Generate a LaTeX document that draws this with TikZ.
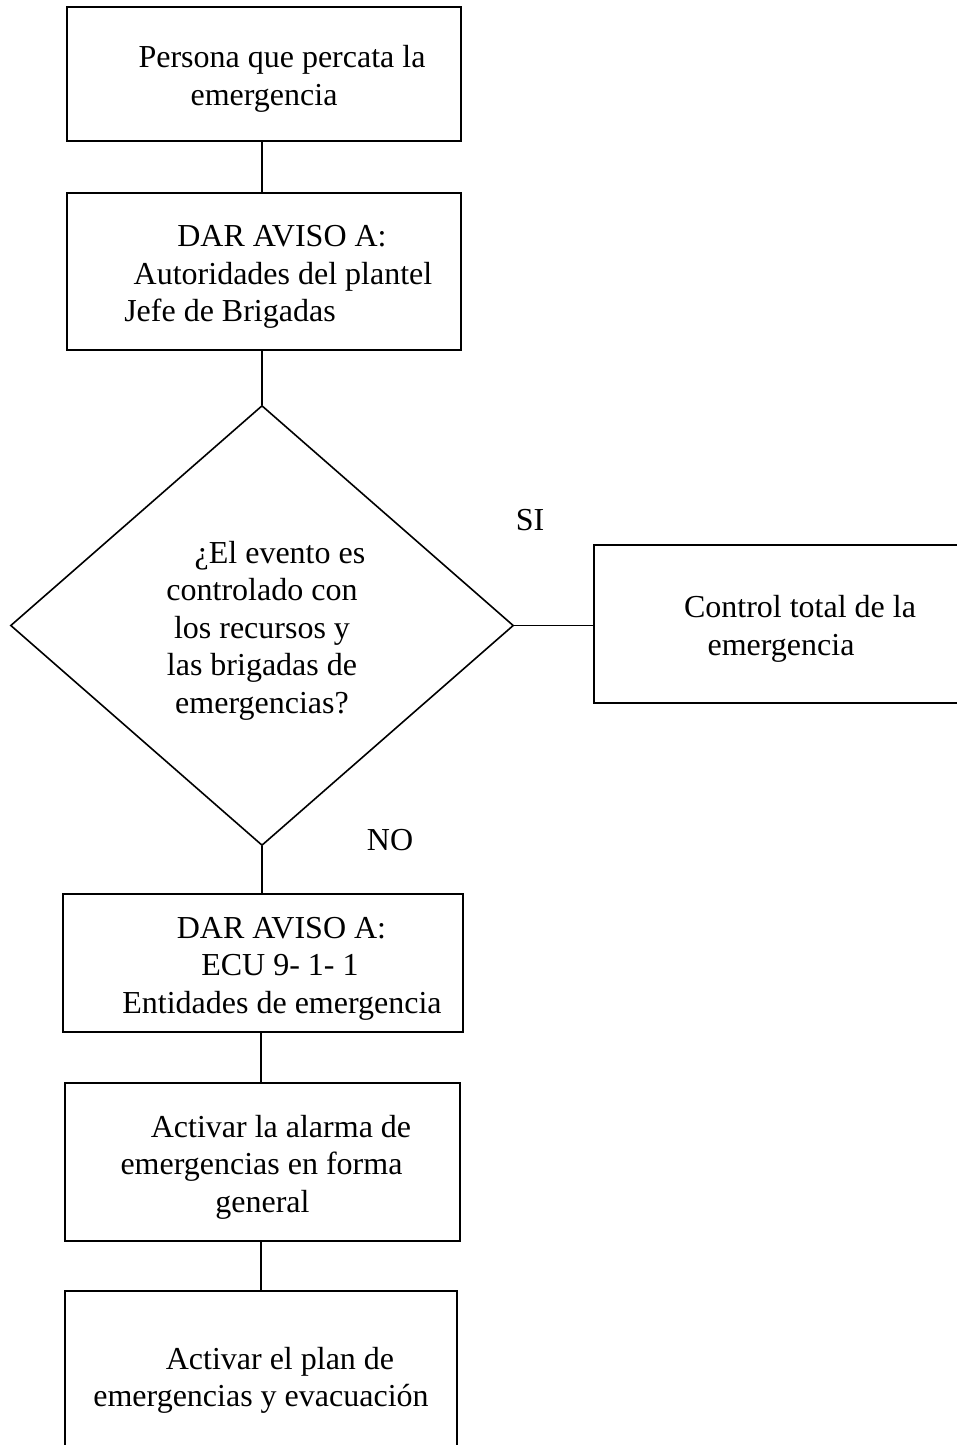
\documentclass[tikz,border=0pt]{standalone}
\usepackage{fontspec}
\setmainfont{Liberation Serif}
\usetikzlibrary{shapes.geometric}
\newcommand\topgap{\rule{0pt}{32pt}}
\begin{document}
\begin{tikzpicture}[x=1pt,y=1pt,
  txt/.style={font=\fontsize{32}{37.5}\selectfont},
  box/.style={draw, line width=2pt, rectangle, inner sep=0pt, align=center, txt},
  decision/.style={draw, line width=1.6pt, diamond, inner sep=0pt, align=center, txt},
  conn/.style={line width=1.7pt},
  lbl/.style={inner sep=0pt, txt}]
\useasboundingbox (0,0) rectangle (956,-1445);
\node[box, minimum width=394pt, minimum height=134pt] (b1) at (264,-74)
  {\topgap\hspace*{36pt}Persona que percata la\\emergencia};
\node[box, minimum width=394pt, minimum height=157pt] (b2) at (264,-271.5)
  {\topgap\hspace*{36pt}DAR AVISO A:\\\hspace*{38pt}Autoridades del plantel\\\hspace*{-68pt}Jefe de Brigadas};
\node[decision, minimum width=503pt, minimum height=440pt, aspect=1.143] (dia) at (262,-625.5)
  {\topgap\hspace*{36pt}¿El evento es\\controlado con\\los recursos y\\las brigadas de\\emergencias?};
\node[box, minimum width=406pt, minimum height=158pt] (b3) at (797,-624)
  {\topgap\hspace*{6pt}Control total de la\\\hspace*{-32pt}emergencia};
\node[box, minimum width=400pt, minimum height=138pt] (b4) at (263,-963)
  {\topgap\hspace*{37pt}DAR AVISO A:\\\hspace*{34pt}ECU 9- 1- 1\\\hspace*{38pt}Entidades de emergencia};
\node[box, minimum width=395pt, minimum height=158pt] (b5) at (262.5,-1162)
  {\topgap\hspace*{37pt}Activar la alarma de\\\hspace*{-2pt}emergencias en forma\\general};
\node[box, minimum width=392pt, minimum height=169pt] (b6) at (261,-1375.5)
  {\topgap\hspace*{38pt}Activar el plan de\\emergencias y evacuación};
\node[lbl] (si) at (530,-520) {SI};
\node[lbl] (no) at (390,-840) {NO};
\draw[conn] (dia.north |- b1.south) -- (dia.north |- b2.north);
\draw[conn] (dia.north |- b2.south) -- (dia.north);
\draw[conn] (dia.east) -- (dia.east -| b3.west);
\draw[conn] (dia.south) -- (dia.south |- b4.north);
\draw[conn] (b4.south) ++(-2,0) coordinate (c4) -- (c4 |- b5.north);
\draw[conn] (c4 |- b5.south) -- (c4 |- b6.north);
\end{tikzpicture}
\end{document}
